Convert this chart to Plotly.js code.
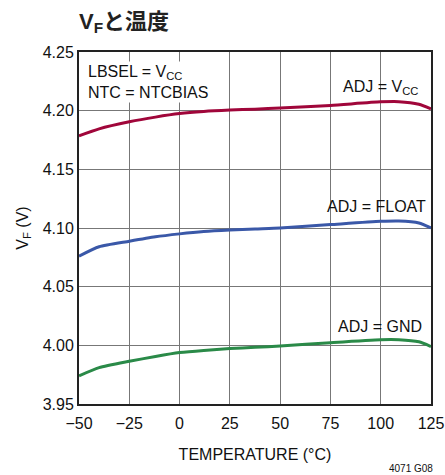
<!DOCTYPE html>
<html><head><meta charset="utf-8">
<script src="https://cdn.plot.ly/plotly-3.0.1.min.js"></script>
<style>html,body{margin:0;padding:0;background:#fff}#chart{width:445px;height:475px}</style>
</head><body><div id="chart"></div>
<script>
const temps = [-50, -40, -25, -12, 0, 12, 25, 37.5, 50, 75, 100, 109, 119, 125];
const vfVcc   = [4.1785, 4.1845, 4.1905, 4.1945, 4.1975, 4.1993, 4.2005, 4.2013, 4.2022, 4.2045, 4.2075, 4.2077, 4.2055, 4.2015];
const vfFloat = [4.0760, 4.0840, 4.0887, 4.0925, 4.0950, 4.0970, 4.0983, 4.0992, 4.1000, 4.1029, 4.1057, 4.1060, 4.1043, 4.1000];
const vfGnd   = [3.9740, 3.9810, 3.9864, 3.9905, 3.9938, 3.9957, 3.9972, 3.9983, 3.9994, 4.0023, 4.0048, 4.0048, 4.0030, 3.9990];
const xTicks = [-50, -25, 0, 25, 50, 75, 100, 125];
const xTickText = ['\u221250', '\u221225', '0', '25', '50', '75', '100', '125'];
const yTicks = [3.95, 4.00, 4.05, 4.10, 4.15, 4.20, 4.25];

const FONT = '"Liberation Sans Narrow", "Liberation Sans", Arial, sans-serif';
const mk = (y, c) => ({x: temps, y: y, type: 'scatter', mode: 'lines',
  line: {color: c, width: 3, shape: 'spline', smoothing: 0.6}, hoverinfo: 'skip'});

const data = [mk(vfVcc, '#a0063a'), mk(vfFloat, '#3a58a8'), mk(vfGnd, '#2a8a48')];

const ann = (x, y, t, xa) => ({x: x, y: y, xref: 'x', yref: 'y', text: t, showarrow: false,
  xanchor: xa, yanchor: 'middle', font: {family: FONT, size: 16, color: '#111'}});

const layout = {
  width: 445, height: 475,
  margin: {l: 79, r: 14, t: 52, b: 71},
  paper_bgcolor: '#fff', plot_bgcolor: '#fff',
  showlegend: false,
  font: {family: FONT, size: 16, color: '#111'},
  title: {text: '<b>V<sub>F</sub>と温度</b>', x: 0, xref: 'paper', xanchor: 'left', y: 0.972, yanchor: 'top',
    font: {family: '"Liberation Sans", "Noto Sans CJK JP", sans-serif', size: 22, color: '#222'}},
  xaxis: {range: [-50, 125], tickvals: xTicks, ticktext: xTickText, showgrid: true, gridcolor: '#777', gridwidth: 1,
    showline: true, linecolor: '#222', linewidth: 2, mirror: true, zeroline: false, ticks: '', ticklabelstandoff: 4,
    tickfont: {family: FONT, size: 16, color: '#111'},
    title: {text: 'TEMPERATURE (°C)', font: {family: FONT, size: 16, color: '#111'}, standoff: 18}},
  yaxis: {range: [3.95, 4.25], tickvals: yTicks, tickformat: '.2f', showgrid: true, gridcolor: '#777', gridwidth: 1,
    showline: true, linecolor: '#222', linewidth: 2, mirror: true, zeroline: false, ticks: '',
    tickfont: {family: FONT, size: 16, color: '#111'},
    title: {text: 'V<sub>F</sub> (V)', font: {family: FONT, size: 16, color: '#111'}, standoff: 10}},
  annotations: [
    {x: 0.02, y: 0.975, xref: 'paper', yref: 'paper', xanchor: 'left', yanchor: 'top', showarrow: false, align: 'left',
     text: 'LBSEL = V<sub>CC</sub><br>NTC = NTCBIAS', bgcolor: '#fff', font: {family: FONT, size: 16, color: '#111'}},
    ann(119.5, 4.220, 'ADJ = V<sub>CC</sub>', 'right'),
    ann(123.5, 4.1186, 'ADJ = FLOAT', 'right'),
    ann(121.7, 4.0158, 'ADJ = GND', 'right'),
    {x: 1, y: 0, xref: 'paper', yref: 'paper', xanchor: 'right', yanchor: 'top', yshift: -57, xshift: 4, showarrow: false,
     text: '4071 G08', font: {family: FONT, size: 10, color: '#111'}}
  ]
};
Plotly.newPlot('chart', data, layout, {displayModeBar: false, staticPlot: true});
</script></body></html>
